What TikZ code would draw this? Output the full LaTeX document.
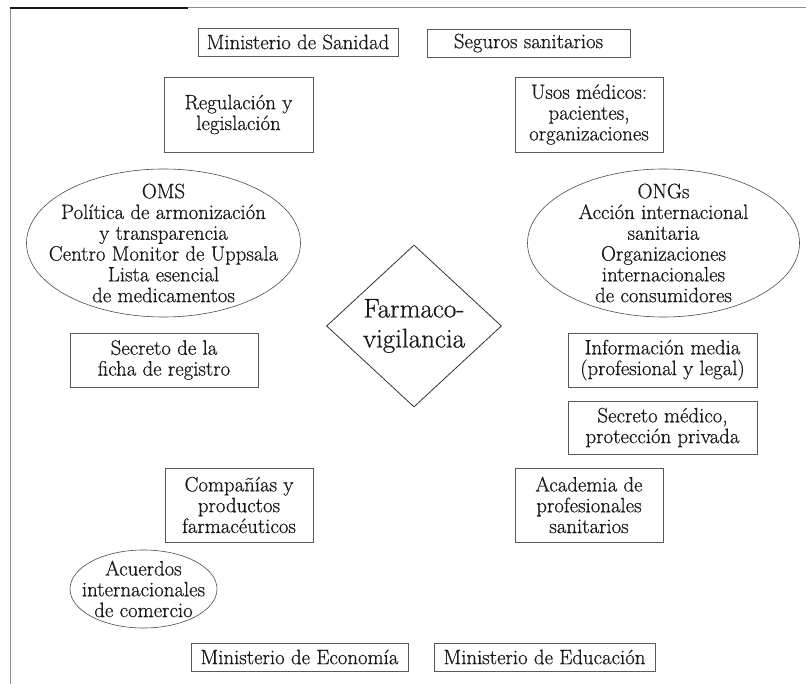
\documentclass[tikz,border=0pt]{standalone}
\usepackage{fontspec}
\setmainfont{Latin Modern Roman}[FakeBold=0.6]
\usetikzlibrary{shapes.geometric}
\begin{document}
\begin{tikzpicture}[x=1pt,y=-1pt,
  txt/.style={font=\fontsize{20.8}{20.8}\selectfont, align=center, text=black!90},
  box/.style={txt, draw=black!65, line width=0.8pt, rectangle, inner sep=0pt},
  oval/.style={txt, draw=black!70, line width=0.6pt, ellipse, inner sep=-60pt},
  rhomb/.style={diamond, draw=black!80, line width=0.8pt, inner sep=-30pt, align=center,
     text=black!90, font=\fontsize{27}{30}\selectfont}]
\useasboundingbox (0,0) rectangle (806,684);
\fill[white] (0,0) rectangle (806,684);
% frame
\coordinate (ftl) at (10,8);
\coordinate (ftr) at (806,8);
\coordinate (fbl) at (10,684);
\coordinate (fdk) at (188,8);
\draw[black!45, line width=1pt] (fbl) -- (ftl) -- (ftr);
\draw[black!90, line width=1.2pt] (ftl) -- (fdk);
% nodes
\node[box, minimum width=200, minimum height=28] (sanidad) at (298,42) {Ministerio de Sanidad};
\node[box, minimum width=203, minimum height=28] (seguros) at (528.5,43) {Seguros sanitarios};
\node[box, minimum width=149, minimum height=75] (regul) at (238.5,114.5) {Regulaci\'on y\\legislaci\'on};
\node[box, minimum width=148, minimum height=75] (usos) at (589,114.5) {Usos m\'edicos:\\pacientes,\\organizaciones};
\node[oval, minimum width=274, minimum height=148] (oms) at (163.5,243) {OMS\\Pol\'itica de armonizaci\'on\\y transparencia\\Centro Monitor de Uppsala\\Lista esencial\\de medicamentos};
\node[oval, minimum width=272, minimum height=148] (ongs) at (663.5,243) {ONGs\\Acci\'on internacional\\sanitaria\\Organizaciones\\internacionales\\de consumidores};
\node[rhomb, minimum width=175, minimum height=162] (farma) at (414,326) {Farmaco-\\vigilancia};
\node[box, minimum width=188, minimum height=54] (ficha) at (164,360) {Secreto de la\\ficha de registro};
\node[box, minimum width=189, minimum height=54] (info) at (662.5,360) {Informaci\'on media\\(profesional y legal)};
\node[box, minimum width=189, minimum height=53] (secmed) at (662.5,427.5) {Secreto m\'edico,\\protecci\'on privada};
\node[box, minimum width=148, minimum height=74] (comp) at (239,505) {Compa\~n\'ias y\\productos\\farmac\'euticos};
\node[box, minimum width=148, minimum height=74] (acad) at (589,505) {Academia de\\profesionales\\sanitarios};
\node[oval, minimum width=147, minimum height=78] (acuer) at (143.5,589) {Acuerdos\\internacionales\\de comercio};
\node[box, minimum width=217, minimum height=28] (econ) at (299.5,657) {Ministerio de Econom\'ia};
\node[box, minimum width=221, minimum height=28] (educ) at (544.5,657) {Ministerio de Educaci\'on};
\end{tikzpicture}
\end{document}
